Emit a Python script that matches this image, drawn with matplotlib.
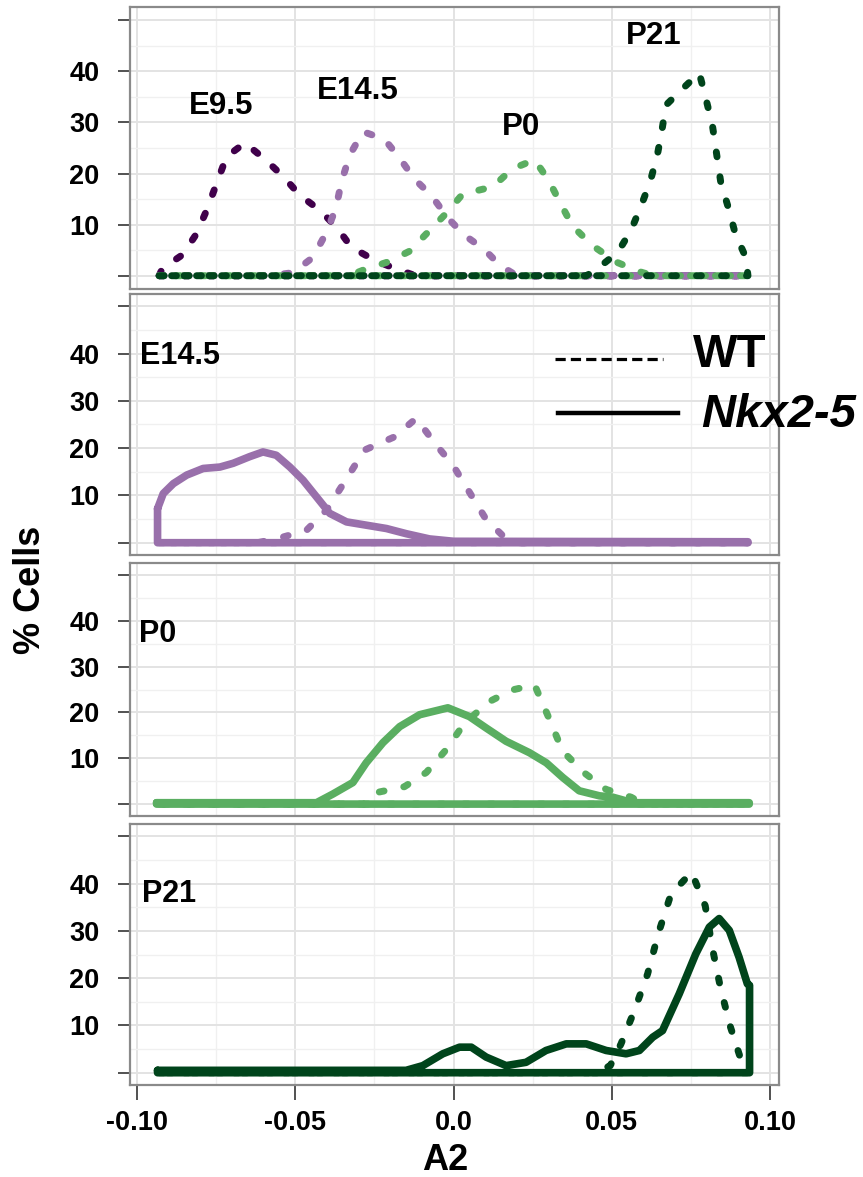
import numpy as np
import matplotlib
matplotlib.use('Agg')
import matplotlib.pyplot as plt
from matplotlib.lines import Line2D
from matplotlib.ticker import FixedLocator, FixedFormatter, MultipleLocator

plt.rcParams['font.family'] = ['Liberation Sans', 'DejaVu Sans']
plt.rcParams['font.weight'] = 'bold'

# colours (PRGn)
c_e95 = '#40004b'
c_e145 = '#9970ab'
c_p0 = '#5aae61'
c_p21 = '#00441b'

# ---- top panel, WT only ----
e95_x = [-0.093, -0.092, -0.0856, -0.0812, -0.0778, -0.0747, -0.0717, -0.0659, -0.0594, -0.0536,
         -0.0486, -0.0420, -0.0367, -0.0323, -0.0249, -0.0176, -0.012, 0.093]
e95_y = [0, 1.4, 4.1, 8.2, 13.1, 18.3, 23.3, 26.0, 22.7, 19.3, 15.8, 12.7, 9.3, 5.6, 3.0, 1.2, 0, 0]

e145_x = [-0.093, -0.058, -0.0507, -0.0444, -0.0404, -0.0372, -0.0354, -0.0328, -0.0286, -0.0218,
          -0.0170, -0.0123, -0.0070, -0.0018, 0.0033, 0.0098, 0.0147, 0.020, 0.093]
e145_y = [0, 0, 0.6, 3.6, 8.2, 13.1, 18.4, 23.6, 28.2, 26.7, 23.0, 18.9, 15.7, 11.3, 8.0, 5.1, 2.0, 0, 0]

p0_x = [-0.093, -0.033, -0.0281, -0.0207, -0.0139, -0.0086, -0.0025, 0.0029, 0.0124, 0.0185,
        0.0256, 0.0301, 0.0340, 0.0376, 0.0439, 0.0513, 0.0587, 0.063, 0.093]
p0_y = [0, 0, 1.2, 2.7, 4.8, 8.2, 12.1, 16.0, 17.4, 20.9, 22.7, 18.6, 13.9, 9.7, 5.9, 2.7, 0.8, 0, 0]

p21_x = [-0.093, 0.042, 0.0455, 0.0519, 0.0560, 0.0592, 0.0621, 0.0643, 0.0657, 0.0671, 0.0727,
         0.0776, 0.0797, 0.0818, 0.0831, 0.0844, 0.0869, 0.0890, 0.0923, 0.093]
p21_y = [0, 0, 1.4, 4.6, 8.8, 13.6, 18.4, 23.4, 28.0, 33.4, 36.8, 39.7, 34.7, 29.3, 23.8, 18.3,
         13.1, 8.2, 3.6, 0]

# ---- E14.5 panel ----
e145wt_x = [-0.093, -0.062, -0.056, -0.0465, -0.040, -0.0344, -0.0281, -0.0186, -0.0118, -0.0055,
            -0.0002, 0.0050, 0.0103, 0.0166, 0.021, 0.093]
e145wt_y = [0, 0, 0.8, 2.6, 7.0, 12.9, 19.6, 22.4, 26.3, 20.7, 16.4, 10.7, 4.9, 0.8, 0, 0]
e145ko_x = [-0.0935, -0.0917, -0.0885, -0.0843, -0.0791, -0.0738, -0.0696, -0.0644, -0.0602,
            -0.0560, -0.0517, -0.0475, -0.0433, -0.0391, -0.0338, -0.0275, -0.0212, -0.0149,
            -0.0076, 0.0, 0.093]
e145ko_y = [7.2, 10.4, 12.5, 14.3, 15.7, 16.0, 16.8, 18.2, 19.2, 18.5, 16.0, 13.2, 9.7, 6.2, 4.4,
            3.7, 3.0, 1.9, 0.8, 0.3, 0.2]

# ---- P0 panel ----
p0wt_x = [-0.093, -0.028, -0.0244, -0.0155, -0.0086, -0.0023, 0.0035, 0.0114, 0.0185, 0.0256,
          0.0301, 0.0345, 0.0415, 0.0482, 0.0561, 0.060, 0.093]
p0wt_y = [0, 0, 2.5, 3.8, 6.9, 11.9, 17.7, 22.4, 24.9, 26.0, 18.8, 11.5, 6.7, 3.2, 1.5, 0, 0]
p0ko_x = [-0.0938, -0.0433, -0.0381, -0.0318, -0.0276, -0.0223, -0.0170, -0.0107, -0.0018, 0.0050,
          0.0103, 0.0166, 0.0240, 0.0293, 0.0345, 0.0397, 0.0461, 0.0503, 0.0545, 0.058, 0.0934]
p0ko_y = [0.3, 0.3, 2.2, 4.7, 9.0, 13.4, 16.9, 19.5, 21.0, 19.1, 16.6, 13.7, 11.2, 9.0, 5.8, 2.9,
          1.8, 1.5, 0.7, 0.3, 0.3]

# ---- P21 panel ----
p21wt_x = [-0.093, 0.045, 0.0495, 0.0529, 0.0571, 0.0613, 0.0648, 0.0687, 0.0752, 0.0795, 0.0818,
           0.0844, 0.0875, 0.0909, 0.093]
p21wt_y = [0, 0, 1.5, 6.1, 13.1, 20.9, 29.7, 37.8, 42.4, 35.3, 26.2, 17.7, 9.6, 2.5, 0]
p21ko_x = [-0.0935, -0.015, -0.0097, -0.0034, 0.0019, 0.0056, 0.0103, 0.0166, 0.0229, 0.0292,
           0.0356, 0.0419, 0.0482, 0.0545, 0.0587, 0.0629, 0.0660, 0.0713, 0.0765, 0.0808,
           0.0839, 0.0871, 0.0902, 0.0928, 0.0935]
p21ko_y = [0.5, 0.5, 1.5, 4.0, 5.4, 5.4, 3.3, 1.5, 2.2, 4.7, 6.1, 6.1, 4.7, 4.0, 4.7, 7.5, 8.9,
           16.7, 25.1, 30.8, 32.6, 30.1, 24.4, 18.8, 18.5]

y_ticks = [0, 10, 20, 30, 40, 50]
y_labels = ['', '10', '20', '30', '40', '']
x_ticks = [-0.10, -0.05, 0.0, 0.05, 0.10]
x_labels = ['-0.10', '-0.05', '0.0', '0.05', '0.10']


def outline(ax, x, y, color, dashed):
    # closed density outline, back along the baseline
    xs = list(x) + [x[-1], x[0], x[0]]
    ys = list(y) + [0, 0, y[0]]
    if dashed:
        ax.plot(xs, ys, color=color, lw=5, linestyle=(0, (0.7, 2.9)),
                dash_capstyle='round', solid_joinstyle='round')
    else:
        ax.plot(xs, ys, color=color, lw=5.5, solid_joinstyle='round', solid_capstyle='round')


fig = plt.figure(figsize=(8.63, 11.77), dpi=100)
W, H = 863.0, 1177.0
boxes = [(7, 289), (294, 555), (563, 816), (824, 1085)]
axes = []
for top, bot in boxes:
    ax = fig.add_axes([130 / W, 1 - bot / H, (779 - 130) / W, (bot - top) / H])
    ax.set_xlim(-0.1022, 0.1028)
    ax.set_ylim(-2.6, 52.6)
    ax.xaxis.set_major_locator(FixedLocator(x_ticks))
    ax.xaxis.set_minor_locator(MultipleLocator(0.025))
    ax.yaxis.set_major_locator(FixedLocator(y_ticks))
    ax.yaxis.set_major_formatter(FixedFormatter(y_labels))
    ax.yaxis.set_minor_locator(MultipleLocator(5))
    ax.grid(which='major', color='#e3e3e3', lw=1.4)
    ax.grid(which='minor', color='#f0f0f0', lw=1.0)
    ax.set_axisbelow(True)
    for s in ax.spines.values():
        s.set_color('#8a8a8a')
        s.set_linewidth(1.6)
    ax.tick_params(axis='y', which='major', direction='out', length=9, width=1.2,
                   color='#333333', labelsize=19.5, pad=13)
    ax.tick_params(axis='both', which='minor', length=0)
    ax.tick_params(axis='x', which='major', length=0, labelbottom=False)
    for lab in ax.get_yticklabels():
        lab.set_fontweight('bold')
    axes.append(ax)

ax1, ax2, ax3, ax4 = axes

outline(ax1, e95_x, e95_y, c_e95, True)
outline(ax1, e145_x, e145_y, c_e145, True)
outline(ax1, p0_x, p0_y, c_p0, True)
outline(ax1, p21_x, p21_y, c_p21, True)
ax1.text(-0.0733, 33.2, 'E9.5', fontsize=22.5, fontweight='bold', ha='center', va='center')
ax1.text(-0.0303, 36.1, 'E14.5', fontsize=22.5, fontweight='bold', ha='center', va='center')
ax1.text(0.0212, 29.1, 'P0', fontsize=22.5, fontweight='bold', ha='center', va='center')
ax1.text(0.0632, 46.9, 'P21', fontsize=22.5, fontweight='bold', ha='center', va='center')

outline(ax2, e145wt_x, e145wt_y, c_e145, True)
outline(ax2, e145ko_x, e145ko_y, c_e145, False)
ax2.text(-0.0989, 39.4, 'E14.5', fontsize=22, fontweight='bold', ha='left', va='center')

outline(ax3, p0wt_x, p0wt_y, c_p0, True)
outline(ax3, p0ko_x, p0ko_y, c_p0, False)
ax3.text(-0.0995, 37.2, 'P0', fontsize=22, fontweight='bold', ha='left', va='center')

outline(ax4, p21wt_x, p21wt_y, c_p21, True)
outline(ax4, p21ko_x, p21ko_y, c_p21, False)
ax4.text(-0.0983, 37.9, 'P21', fontsize=22, fontweight='bold', ha='left', va='center')

ax4.set_xticklabels(x_labels)
ax4.tick_params(axis='x', which='major', length=11, width=1.2, color='#333333',
                labelbottom=True, labelsize=19.5, pad=7)
for lab in ax4.get_xticklabels():
    lab.set_fontweight('bold')

# legend drawn by hand, sticks out past the panel
fig.add_artist(Line2D([555 / W, 663 / W], [1 - 359 / H, 1 - 359 / H], color='black', lw=2.3,
                      linestyle=(0, (3.2, 1.6)), transform=fig.transFigure))
fig.add_artist(Line2D([558 / W, 678 / W], [1 - 413 / H, 1 - 413 / H], color='black', lw=3.2,
                      transform=fig.transFigure))
fig.text(693 / W, 1 - 355 / H, 'WT', fontsize=34, fontweight='bold', ha='left', va='center')
fig.text(701 / W, 1 - 415 / H, 'Nkx2-5', fontsize=34, fontweight='bold', style='italic',
         ha='left', va='center')

fig.text(30 / W, 1 - 590 / H, '% Cells', fontsize=26, fontweight='bold', rotation=90,
         ha='center', va='center')
fig.text(445 / W, 1 - 1160 / H, 'A2', fontsize=26, fontweight='bold', ha='center', va='center')

fig.savefig('out.png', dpi=100)
